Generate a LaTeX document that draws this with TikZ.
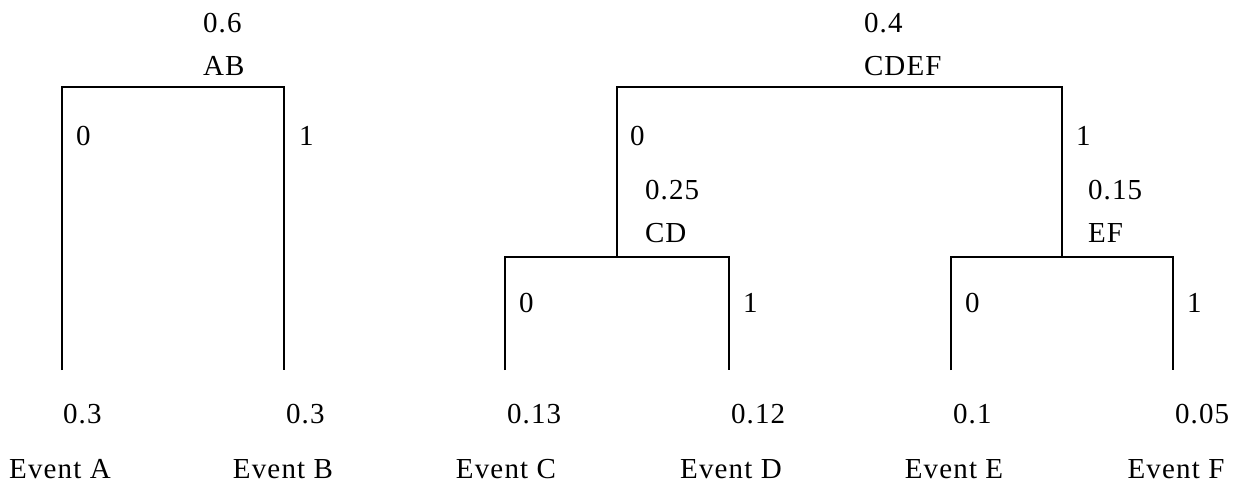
\documentclass[tikz,border=0pt]{standalone}
\usepackage{fontspec}
\setmainfont[LetterSpace=4]{Liberation Serif}
\begin{document}
\begin{tikzpicture}[x=1pt,y=-1pt,
  bar/.style={line width=1.7pt,line join=miter},
  lbl/.style={inner sep=0pt,outer sep=0pt,font=\fontsize{29}{34}\selectfont},
  topl/.style={lbl,anchor=base west},
  brl/.style={lbl,anchor=base west},
  leafp/.style={lbl,anchor=base west},
  ev/.style={lbl,anchor=base}]
\useasboundingbox (0,0) rectangle (1244,485);
% coordinates
\coordinate (Abot) at (62,370);
\coordinate (Bbot) at (284,370);
\coordinate (ABl) at (62,87);
\coordinate (ABr) at (284,87);
\coordinate (CDEFl) at (617,87);
\coordinate (CDEFr) at (1062,87);
\coordinate (CDl) at (505,257);
\coordinate (CDm) at (617,257);
\coordinate (CDr) at (729,257);
\coordinate (EFl) at (951,257);
\coordinate (EFm) at (1062,257);
\coordinate (EFr) at (1173,257);
\coordinate (Cbot) at (505,370);
\coordinate (Dbot) at (729,370);
\coordinate (Ebot) at (951,370);
\coordinate (Fbot) at (1173,370);
% connectors
\draw[bar] (Abot) -- (ABl) -- (ABr) -- (Bbot);
\draw[bar] (CDm) -- (CDEFl) -- (CDEFr) -- (EFm);
\draw[bar] (Cbot) -- (CDl) -- (CDr) -- (Dbot);
\draw[bar] (Ebot) -- (EFl) -- (EFr) -- (Fbot);
% internal node labels
\node[topl] (pAB) at (203,32) {0.6};
\node[topl] (nAB) at (203,75) {AB};
\node[topl] (pCDEF) at (864,32) {0.4};
\node[topl] (nCDEF) at (864,75) {CDEF};
\node[topl] (pCD) at (645,199) {0.25};
\node[topl] (nCD) at (645,242) {CD};
\node[topl] (pEF) at (1088,199) {0.15};
\node[topl] (nEF) at (1088,242) {EF};
% branch labels
\node[brl] (bA) at (76,145) {0};
\node[brl] (bB) at (299,145) {1};
\node[brl] (bCD) at (630,145) {0};
\node[brl] (bEF) at (1076,145) {1};
\node[brl] (bC) at (519,312) {0};
\node[brl] (bD) at (743,312) {1};
\node[brl] (bE) at (965,312) {0};
\node[brl] (bF) at (1187,312) {1};
% leaves
\node[leafp] (pA) at (63,423) {0.3};
\node[leafp] (pB) at (286,423) {0.3};
\node[leafp] (pC) at (507,423) {0.13};
\node[leafp] (pD) at (731,423) {0.12};
\node[leafp] (pE) at (953,423) {0.1};
\node[leafp] (pF) at (1175,423) {0.05};
\node[ev] (eA) at (60,478) {Event A};
\node[ev] (eB) at (283,478) {Event B};
\node[ev] (eC) at (506,478) {Event C};
\node[ev] (eD) at (731,478) {Event D};
\node[ev] (eE) at (954,478) {Event E};
\node[ev] (eF) at (1176,478) {Event F};
\end{tikzpicture}
\end{document}
